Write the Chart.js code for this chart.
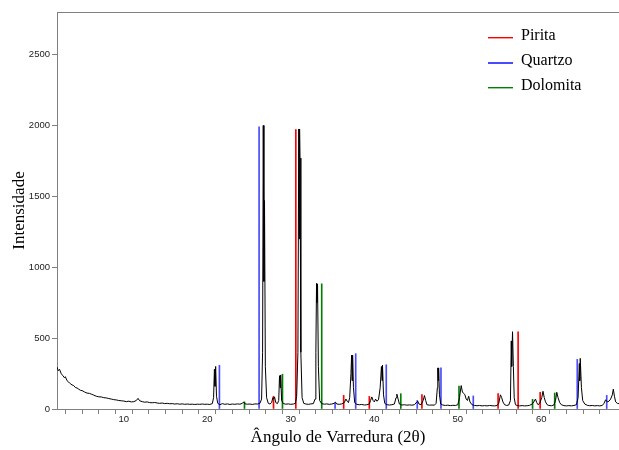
<!DOCTYPE html>
<html>
<head>
<meta charset="utf-8">
<script src="https://cdn.jsdelivr.net/npm/chart.js@4.4.1/dist/chart.umd.min.js"></script>
<style>
  html, body { margin: 0; padding: 0; background: #fff; }
  #xrd { display: block; }
</style>
</head>
<body>
<canvas id="xrd" width="619" height="450"></canvas>
<script>
// Measured pattern (2-theta, counts)
const patternAngle = [
  2.0, 2.15, 2.3, 2.5, 2.7, 2.9, 3.0, 3.2, 3.4, 3.6, 3.8, 4.0, 4.2, 4.4, 4.6, 4.8,
  5.0, 5.3, 5.6, 5.9, 6.1, 6.4, 6.7, 7.0, 7.3, 7.6, 7.9, 8.2, 8.5, 8.8, 9.1, 9.4,
  9.7, 10.0, 10.3, 10.6, 10.9, 11.2, 11.5, 11.7, 11.9, 12.2, 12.5, 12.8, 13.1, 13.4,
  13.7, 14.0, 14.3, 14.6, 14.9, 15.2, 15.5, 15.8, 16.1, 16.4, 16.7, 17.0, 17.3, 17.6,
  17.9, 18.2, 18.5, 18.8, 19.1, 19.4, 19.7, 20.0, 20.3, 20.6,
  20.75, 20.85, 20.92, 21.0, 21.1, 21.25, 21.5, 21.8, 22.1, 22.4, 22.7, 23.0, 23.3,
  23.6, 23.9, 24.2, 24.35, 24.5, 24.8, 25.1, 25.4, 25.7, 26.0, 26.3, 26.5, 26.62,
  26.7, 26.78, 26.85, 26.95, 27.1, 27.3, 27.5, 27.7, 27.85, 27.95, 28.05, 28.2, 28.4,
  28.55, 28.65, 28.72, 28.78, 28.9, 29.1, 29.4, 29.7, 30.0, 30.3, 30.55, 30.7, 30.85,
  30.95, 31.0, 31.05, 31.1, 31.2, 31.35, 31.55, 31.8, 32.1, 32.4, 32.7, 32.9, 33.0,
  33.08, 33.12, 33.2, 33.3, 33.45, 33.7, 34.0, 34.3, 34.6, 34.9, 35.2, 35.35, 35.5,
  35.8, 36.1, 36.4, 36.6, 36.75, 36.9, 37.05, 37.2, 37.28, 37.33, 37.4, 37.5, 37.65,
  37.9, 38.2, 38.5, 38.8, 39.1, 39.4, 39.55, 39.7, 39.85, 40.0, 40.15, 40.3, 40.5,
  40.7, 40.85, 40.92, 40.98, 41.1, 41.25, 41.5, 41.8, 42.1, 42.4, 42.6, 42.7, 42.85,
  43.0, 43.3, 43.6, 43.9, 44.2, 44.5, 44.8, 45.1, 45.2, 45.35, 45.6, 45.85, 46.0,
  46.15, 46.3, 46.6, 46.9, 47.2, 47.4, 47.55, 47.6, 47.65, 47.7, 47.8, 47.95, 48.2,
  48.5, 48.8, 49.1, 49.4, 49.7, 50.0, 50.2, 50.4, 50.55, 50.7, 50.85, 51.0, 51.15,
  51.3, 51.45, 51.7, 52.0, 52.3, 52.6, 52.9, 53.2, 53.5, 53.8, 54.1, 54.4, 54.7,
  54.9, 55.1, 55.25, 55.4, 55.6, 55.85, 56.1, 56.3, 56.4, 56.45, 56.55, 56.65, 56.75,
  56.9, 57.1, 57.4, 57.7, 58.0, 58.3, 58.6, 58.9, 59.1, 59.3, 59.45, 59.6, 59.8,
  60.05, 60.2, 60.35, 60.5, 60.7, 60.9, 61.2, 61.5, 61.7, 61.85, 62.0, 62.2, 62.4,
  62.7, 63.0, 63.3, 63.6, 63.9, 64.2, 64.4, 64.55, 64.6, 64.66, 64.8, 64.95, 65.2,
  65.5, 65.8, 66.1, 66.4, 66.7, 67.0, 67.3, 67.5, 67.7, 67.9, 68.1, 68.3, 68.5,
  68.62, 68.75, 68.9, 69.1, 69.3
];
const patternCount = [
  296, 270, 280, 250, 235, 220, 228, 200, 190, 178, 170, 165, 152, 148, 140, 132,
  130, 120, 112, 110, 105, 98, 90, 86, 85, 80, 78, 74, 70, 66, 64, 60,
  58, 56, 52, 55, 50, 52, 60, 75, 58, 52, 48, 50, 45, 44,
  46, 42, 40, 42, 38, 40, 37, 38, 35, 37, 34, 36, 33, 35,
  33, 34, 32, 34, 33, 35, 33, 34, 32, 38,
  80, 280, 160, 300, 90, 40, 30, 38, 33, 36, 32, 35, 33,
  36, 34, 40, 50, 36, 34, 35, 32, 36, 35, 40, 70, 400,
  2000, 900, 1470, 300, 80, 40, 35, 45, 80, 70, 85, 45, 38,
  60, 235, 150, 240, 60, 38, 34, 36, 33, 35, 40, 90, 400,
  1975, 1200, 1975, 1770, 400, 80, 40, 35, 33, 36, 38, 70, 400,
  885, 750, 880, 300, 60, 38, 34, 36, 33, 35, 40, 48, 35,
  33, 36, 45, 70, 55, 45, 80, 250, 380, 200, 380, 150, 45,
  33, 30, 32, 28, 30, 35, 60, 85, 60, 50, 70, 55, 65,
  150, 300, 200, 310, 100, 40, 30, 28, 30, 35, 80, 105, 70,
  35, 28, 30, 27, 29, 27, 30, 50, 55, 35, 30, 60, 95,
  60, 30, 27, 28, 27, 40, 150, 290, 200, 290, 100, 35, 28,
  25, 27, 24, 26, 25, 30, 80, 165, 120, 110, 100, 70, 60,
  90, 50, 30, 25, 23, 25, 22, 24, 22, 25, 23, 22, 25,
  40, 100, 80, 50, 30, 25, 28, 60, 480, 300, 545, 300, 80,
  30, 25, 22, 24, 22, 23, 26, 35, 50, 70, 45, 30, 40,
  80, 125, 80, 50, 30, 25, 23, 28, 60, 118, 80, 45, 30,
  24, 22, 24, 22, 25, 30, 80, 320, 200, 357, 150, 60, 35,
  26, 23, 25, 22, 24, 22, 25, 40, 65, 50, 55, 70, 100,
  140, 90, 50, 40, 38
];

// Reference lines (2-theta, relative height in counts)
const piritaAngle = [27.93, 30.6, 36.33, 39.4, 45.7, 54.82, 57.22, 59.86];
const piritaHeight = [90, 1970, 96, 89, 101, 108, 545, 118];
const quartzoAngle = [21.45, 26.2, 35.3, 37.77, 41.43, 45.14, 47.98, 51.85, 64.3, 67.83];
const quartzoHeight = [308, 1990, 45, 390, 312, 60, 291, 92, 350, 96];
const dolomitaAngle = [24.45, 29.0, 33.7, 43.17, 50.14, 58.95, 61.6];
const dolomitaHeight = [50, 245, 883, 108, 162, 68, 113];

const yTicks = [0, 500, 1000, 1500, 2000, 2500];

const pairs = (xs, ys) => xs.map((x, i) => ({ x: x, y: ys[i] }));

const stick = (label, xs, ys, color) => ({
    type: 'bar',
    label: label,
    data: pairs(xs, ys),
    backgroundColor: color,
    borderColor: color,
    barThickness: 1,
    grouped: false,
    order: 1
});

// small legend in the top right corner + top frame line
const frameAndLegend = {
    id: 'frameAndLegend',
    afterDraw(chart) {
        const { ctx, chartArea } = chart;
        ctx.save();
        ctx.fillStyle = '#808080';
        ctx.fillRect(chartArea.left, chartArea.top, chartArea.right - chartArea.left, 1);

        ctx.font = '16px "Liberation Serif", "Times New Roman", serif';
        ctx.textBaseline = 'middle';
        chart.data.datasets.slice(1).forEach((ds, i) => {
            const y = 37 + i * 25;
            ctx.fillStyle = ds.backgroundColor;
            ctx.fillRect(488, y, 25, i === 1 ? 2 : 1.4);
            ctx.fillStyle = '#000';
            ctx.fillText(ds.label, 521, y - 1);
        });
        ctx.restore();
    }
};

new Chart(document.getElementById('xrd'), {
    type: 'line',
    data: {
        datasets: [
            {
                label: 'Amostra',
                data: pairs(patternAngle, patternCount),
                borderColor: '#000',
                borderWidth: 1,
                pointRadius: 0,
                tension: 0,
                order: 0
            },
            stick('Pirita', piritaAngle, piritaHeight, '#ff0000'),
            stick('Quartzo', quartzoAngle, quartzoHeight, '#4a4aff'),
            stick('Dolomita', dolomitaAngle, dolomitaHeight, '#008000')
        ]
    },
    options: {
        responsive: false,
        animation: false,
        layout: { padding: { top: 12, left: 0, right: 0, bottom: 0 } },
        plugins: {
            legend: { display: false },
            tooltip: { enabled: false }
        },
        scales: {
            x: {
                type: 'linear',
                min: 2,
                max: 69.3,
                offset: false,
                grid: { drawOnChartArea: false, tickLength: 5, color: '#808080' },
                border: { color: '#808080' },
                afterBuildTicks: s => { s.ticks = s.ticks.filter(t => t.value % 2 === 0); },
                afterFit: s => { s.height = 41; },
                ticks: {
                    stepSize: 2,
                    autoSkip: false,
                    maxRotation: 0,
                    padding: 0,
                    color: '#222',
                    font: { family: '"Liberation Sans", Arial, sans-serif', size: 9.5 },
                    callback: v => (v % 10 === 0 ? String(v) : '')
                },
                title: {
                    display: true,
                    text: 'Ângulo de Varredura (2θ)',
                    color: '#000',
                    padding: { top: 0, bottom: 2 },
                    font: { family: '"Liberation Serif", "Times New Roman", serif', size: 17 }
                }
            },
            y: {
                min: 0,
                max: 2800,
                grid: { drawOnChartArea: false, tickLength: 5, color: '#808080' },
                border: { color: '#808080' },
                afterBuildTicks: s => { s.ticks = yTicks.map(v => ({ value: v })); },
                afterFit: s => { s.width = 57; },
                ticks: {
                    padding: 2,
                    color: '#222',
                    font: { family: '"Liberation Sans", Arial, sans-serif', size: 9.5 },
                    callback: v => String(v)
                },
                title: {
                    display: true,
                    text: 'Intensidade',
                    color: '#000',
                    padding: { top: 9, bottom: 0 },
                    font: { family: '"Liberation Serif", "Times New Roman", serif', size: 17 }
                }
            }
        }
    },
    plugins: [frameAndLegend]
});
</script>
</body>
</html>
